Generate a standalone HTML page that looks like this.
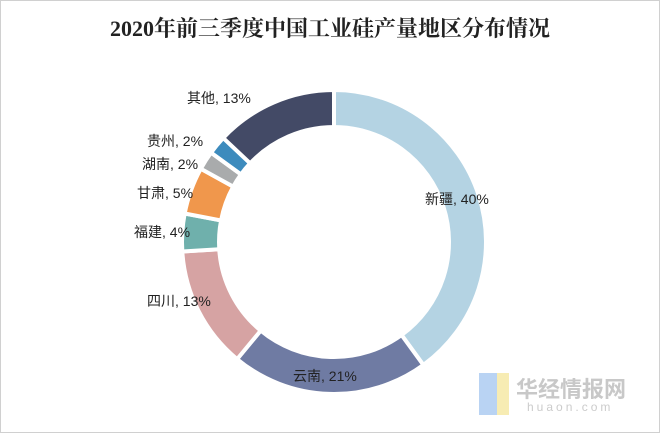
<!DOCTYPE html>
<html><head><meta charset="utf-8"><style>
html,body{margin:0;padding:0;background:#fff}
#c{position:relative;width:658px;height:431px;border:1px solid #d0d0d0;overflow:hidden;font-family:"Liberation Sans","Noto Sans CJK SC",sans-serif}
.t{position:absolute;top:11px;left:0;width:658px;text-align:center;font:bold 22px "Liberation Serif","Noto Serif CJK SC",serif;color:#222}
.l{position:absolute;font-size:14px;color:#222;white-space:nowrap;line-height:16px}
</style></head><body><div id="c">
<div class="t">2020年前三季度中国工业硅产量地区分布情况</div>
<svg id="s" width="658" height="431" style="position:absolute;left:0;top:0"></svg>
<div class="l" style="left:186px;top:89px">其他, 13%</div>
<div class="l" style="left:146px;top:132px">贵州, 2%</div>
<div class="l" style="left:141px;top:155px">湖南, 2%</div>
<div class="l" style="left:136px;top:184px">甘肃, 5%</div>
<div class="l" style="left:133px;top:223px">福建, 4%</div>
<div class="l" style="left:146px;top:292px">四川, 13%</div>
<div class="l" style="left:292px;top:367px">云南, 21%</div>
<div class="l" style="left:424px;top:190px">新疆, 40%</div>
<div style="position:absolute;left:478px;top:372px;width:18px;height:42px;background:#a8c8f0;opacity:.8"></div>
<div style="position:absolute;left:496px;top:372px;width:12px;height:42px;background:#f5e7a0;opacity:.8"></div>
<div style="position:absolute;left:515px;top:371px;font-size:22px;color:#c8c8c8;font-weight:bold">华经情报网</div>
<div style="position:absolute;left:526px;top:399px;font-size:12px;color:#ccc;letter-spacing:3px">huaon.com</div>
</div>
<script>
var d=[[40,"#b4d3e3"],[21,"#6f7ba3"],[13,"#d6a3a3"],[4,"#6fb0ac"],[5,"#f0974c"],[2,"#a9abac"],[2,"#3d8bbd"],[13,"#434a66"]];
var cx=333,cy=241,R=152,r=115,a=0,h="";
function p(rad,t){return [(cx+rad*Math.sin(t)).toFixed(2),(cy-rad*Math.cos(t)).toFixed(2)];}
d.forEach(function(x){var b=a+x[0]/100*2*Math.PI,l=(b-a)>Math.PI?1:0;
var A=p(R,a),B=p(R,b),C=p(r,b),D=p(r,a);
h+='<path d="M'+A+'A'+R+','+R+' 0 '+l+' 1 '+B+'L'+C+'A'+r+','+r+' 0 '+l+' 0 '+D+'Z" fill="'+x[1]+'" stroke="#fff" stroke-width="4"/>';a=b;});
document.getElementById("s").innerHTML=h;
</script>
</body></html>
